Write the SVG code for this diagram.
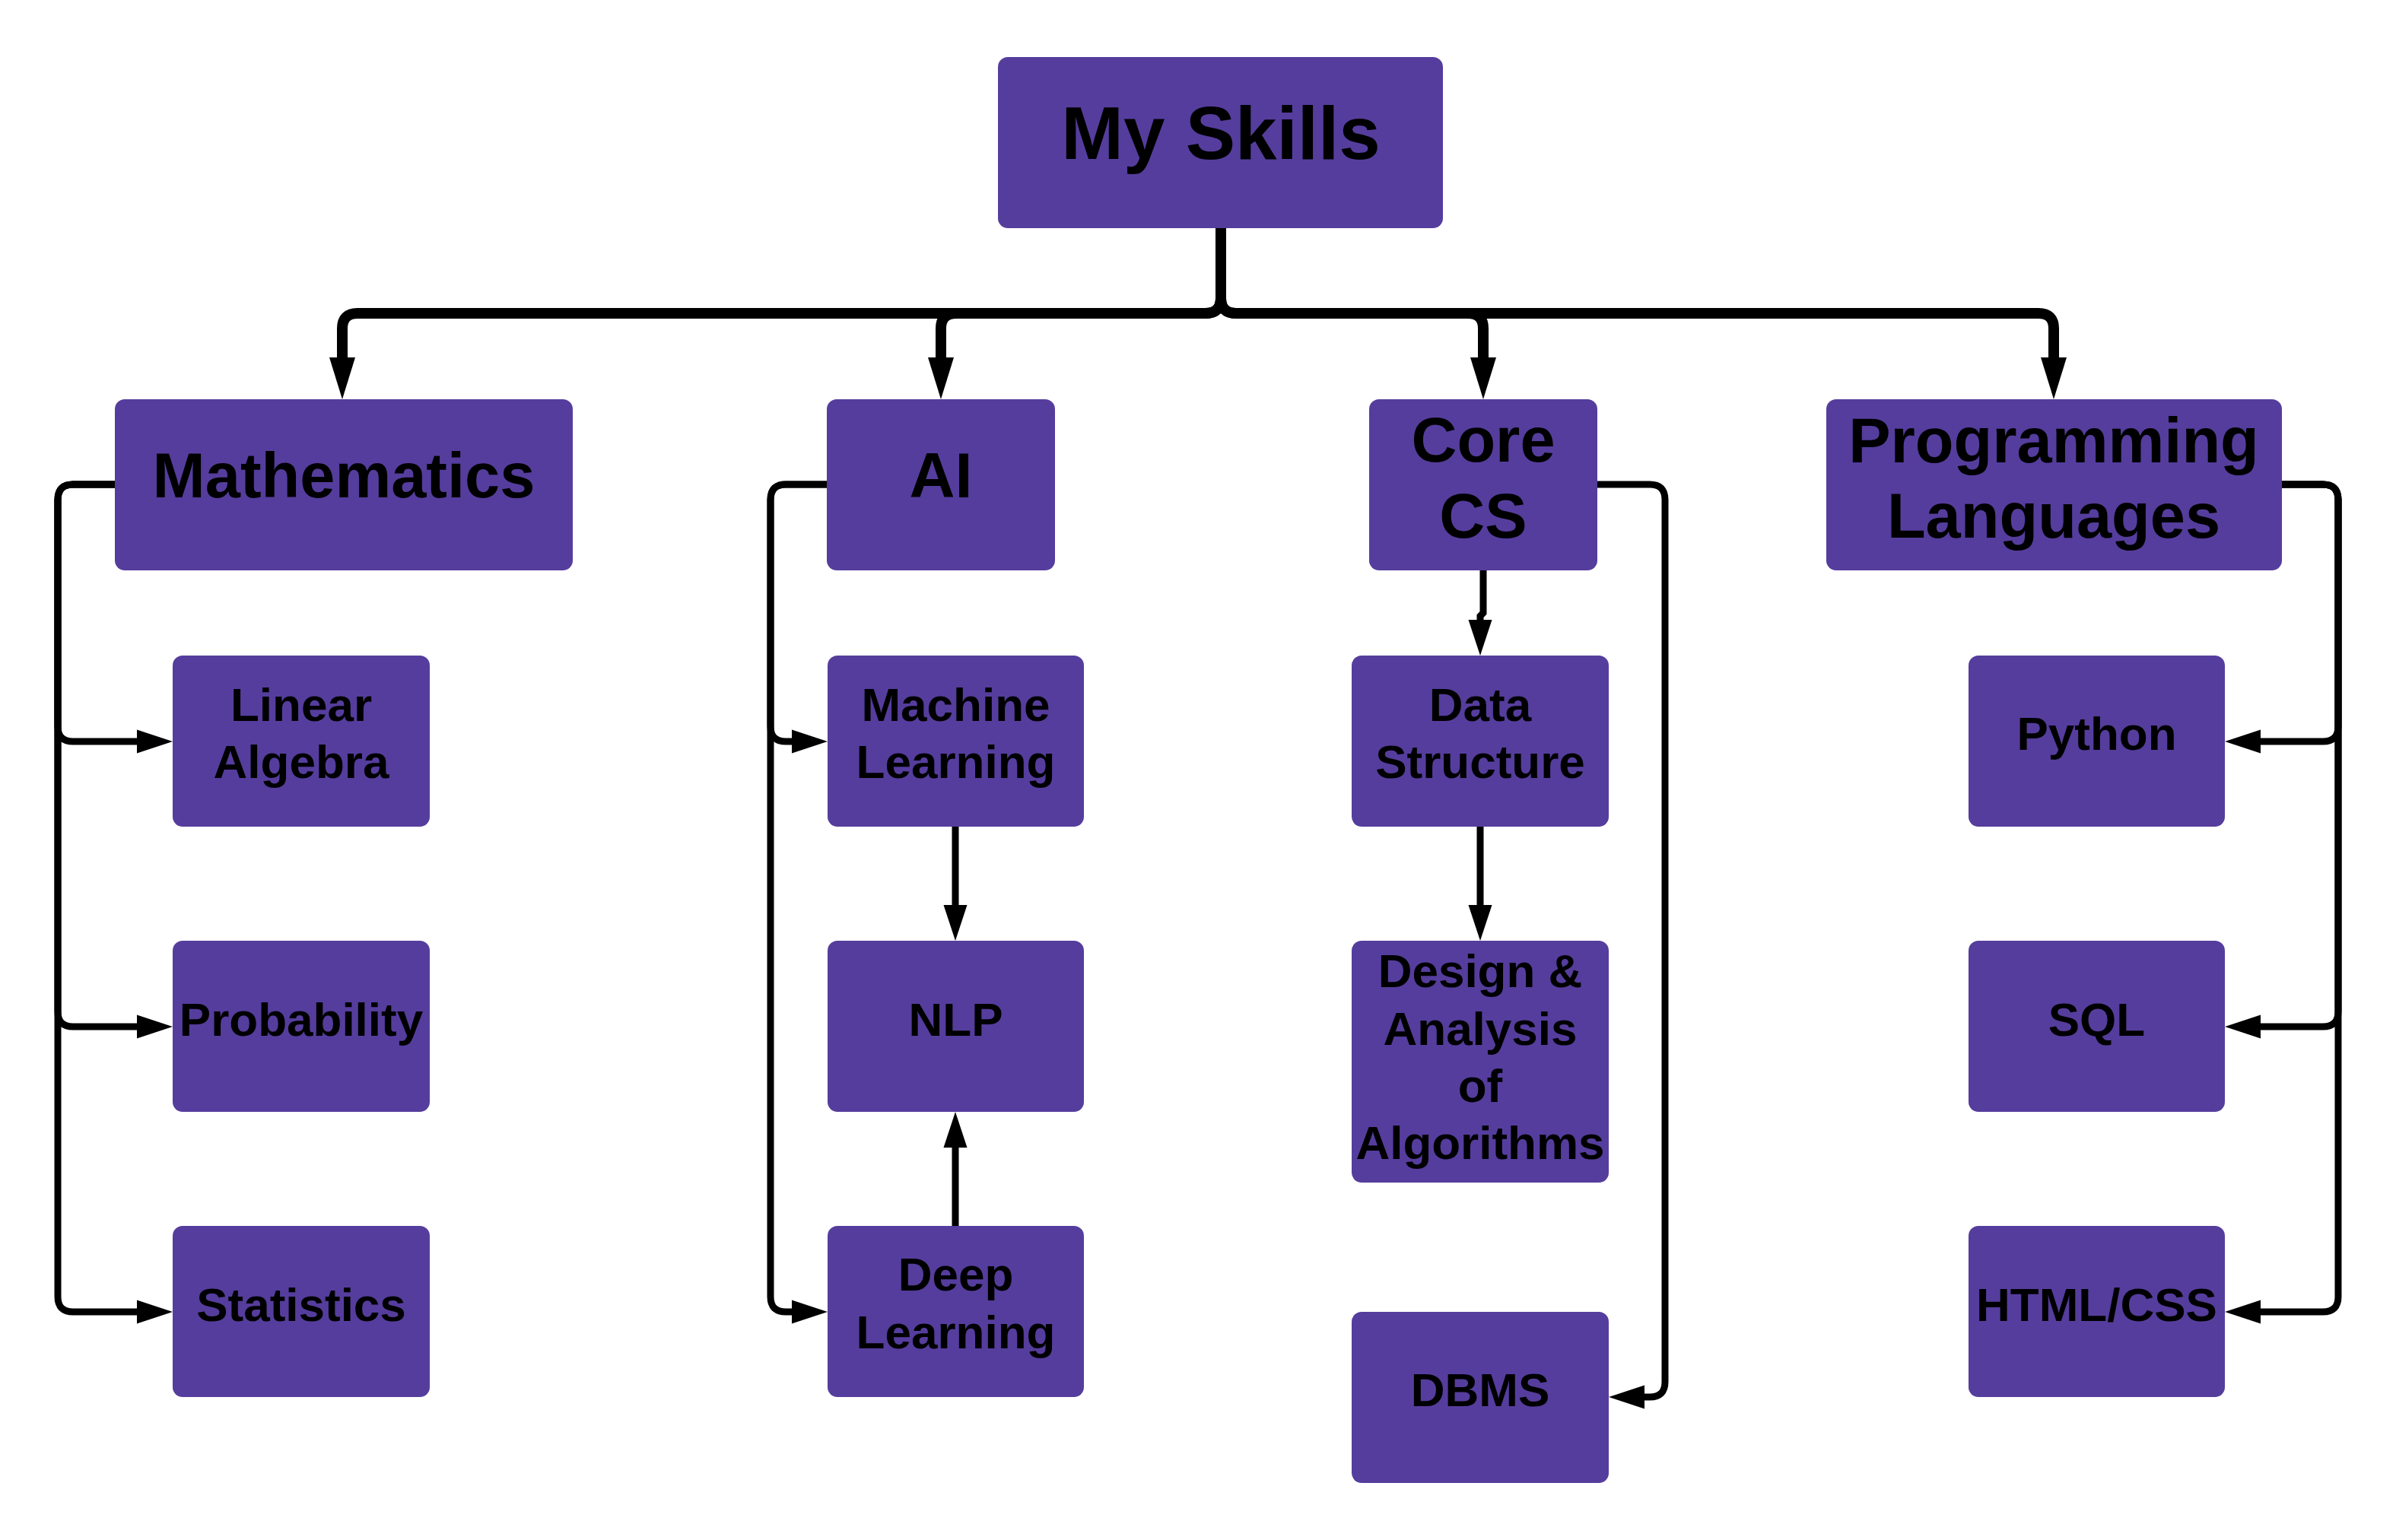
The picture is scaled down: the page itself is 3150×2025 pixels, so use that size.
<svg xmlns="http://www.w3.org/2000/svg" width="3150" height="2025" viewBox="0 0 3150 2025">
<defs>
<style>
.box{fill:#553D9D;}
.t{font-family:"Liberation Sans",Arial,sans-serif;font-weight:bold;fill:#000;text-anchor:middle;}
.t1{font-size:98px;}
.t2{font-size:83px;}
.t3{font-size:62px;}
.big{fill:none;stroke:#000;stroke-width:14;marker-end:url(#ab);}
.sm{fill:none;stroke:#000;stroke-width:9;marker-end:url(#as);}
</style>
<marker id="ab" markerUnits="userSpaceOnUse" viewBox="0 0 55 34" markerWidth="55" markerHeight="34" refX="0" refY="17" orient="auto" overflow="visible"><path d="M0,0 L55,17 L0,34 Z" fill="#000"/></marker>
<marker id="as" markerUnits="userSpaceOnUse" viewBox="0 0 47 31" markerWidth="47" markerHeight="31" refX="0" refY="15.5" orient="auto" overflow="visible"><path d="M0,0 L47,15.5 L0,31 Z" fill="#000"/></marker>
</defs>
<rect width="3150" height="2025" fill="#fff"/>
<g id="connectors">
<path class="big" d="M1605 300 V392 Q1605 412 1585 412 H470 Q450 412 450 432 V470"/>
<path class="big" d="M1605 300 V392 Q1605 412 1585 412 H1257 Q1237 412 1237 432 V470"/>
<path class="big" d="M1605 300 V392 Q1605 412 1625 412 H1930 Q1950 412 1950 432 V470"/>
<path class="big" d="M1605 300 V392 Q1605 412 1625 412 H2680 Q2700 412 2700 432 V470"/>
<path class="sm" d="M151 637 H96 Q76 637 76 657 V955 Q76 975 96 975 H180"/>
<path class="sm" d="M151 637 H96 Q76 637 76 657 V1330 Q76 1350 96 1350 H180"/>
<path class="sm" d="M151 637 H96 Q76 637 76 657 V1705 Q76 1725 96 1725 H180"/>
<path class="sm" d="M1087 637 H1033 Q1013 637 1013 657 V955 Q1013 975 1033 975 H1041"/>
<path class="sm" d="M1087 637 H1033 Q1013 637 1013 657 V1705 Q1013 1725 1033 1725 H1041"/>
<path class="sm" d="M1256 1087 V1190"/>
<path class="sm" d="M1256 1612 V1509"/>
<path class="sm" d="M1950 750 V806 L1946 810 V815"/>
<path class="sm" d="M1946 1087 V1190"/>
<path class="sm" d="M2100 637 H2169 Q2189 637 2189 657 V1817 Q2189 1837 2169 1837 H2162"/>
<path class="sm" d="M3000 637 H3054 Q3074 637 3074 657 V955 Q3074 975 3054 975 H2972"/>
<path class="sm" d="M3000 637 H3054 Q3074 637 3074 657 V1330 Q3074 1350 3054 1350 H2972"/>
<path class="sm" d="M3000 637 H3054 Q3074 637 3074 657 V1705 Q3074 1725 3054 1725 H2972"/>
</g>
<g id="my-skills"><rect class="box" x="1312" y="75" width="585" height="225" rx="13"/><text class="t t1" x="1605" y="209">My Skills</text></g>
<g id="mathematics"><rect class="box" x="151" y="525" width="602" height="225" rx="13"/><text class="t t2" x="452" y="654">Mathematics</text></g>
<g id="ai"><rect class="box" x="1087" y="525" width="300" height="225" rx="13"/><text class="t t2" x="1237" y="654">AI</text></g>
<g id="core-cs"><rect class="box" x="1800" y="525" width="300" height="225" rx="13"/><text class="t t2" x="1950" y="607">Core</text><text class="t t2" x="1950" y="707">CS</text></g>
<g id="programming-languages"><rect class="box" x="2401" y="525" width="599" height="225" rx="13"/><text class="t t2" x="2700" y="608">Programming</text><text class="t t2" x="2700" y="707">Languages</text></g>
<g id="linear-algebra"><rect class="box" x="227" y="862" width="338" height="225" rx="13"/><text class="t t3" x="396" y="948">Linear</text><text class="t t3" x="396" y="1023">Algebra</text></g>
<g id="probability"><rect class="box" x="227" y="1237" width="338" height="225" rx="13"/><text class="t t3" x="396" y="1362">Probability</text></g>
<g id="statistics"><rect class="box" x="227" y="1612" width="338" height="225" rx="13"/><text class="t t3" x="396" y="1737">Statistics</text></g>
<g id="machine-learning"><rect class="box" x="1088" y="862" width="337" height="225" rx="13"/><text class="t t3" x="1256.5" y="948">Machine</text><text class="t t3" x="1256.5" y="1023">Learning</text></g>
<g id="nlp"><rect class="box" x="1088" y="1237" width="337" height="225" rx="13"/><text class="t t3" x="1256.5" y="1362">NLP</text></g>
<g id="deep-learning"><rect class="box" x="1088" y="1612" width="337" height="225" rx="13"/><text class="t t3" x="1256.5" y="1697">Deep</text><text class="t t3" x="1256.5" y="1773">Learning</text></g>
<g id="data-structure"><rect class="box" x="1777" y="862" width="338" height="225" rx="13"/><text class="t t3" x="1946" y="948">Data</text><text class="t t3" x="1946" y="1023">Structure</text></g>
<g id="design-analysis-algorithms"><rect class="box" x="1777" y="1237" width="338" height="318" rx="13"/><text class="t t3" x="1946" y="1298">Design &amp;</text><text class="t t3" x="1946" y="1374">Analysis</text><text class="t t3" x="1946" y="1449">of</text><text class="t t3" x="1946" y="1524">Algorithms</text></g>
<g id="dbms"><rect class="box" x="1777" y="1725" width="338" height="225" rx="13"/><text class="t t3" x="1946" y="1849">DBMS</text></g>
<g id="python"><rect class="box" x="2588" y="862" width="337" height="225" rx="13"/><text class="t t3" x="2756.5" y="986">Python</text></g>
<g id="sql"><rect class="box" x="2588" y="1237" width="337" height="225" rx="13"/><text class="t t3" x="2756.5" y="1362">SQL</text></g>
<g id="html-css"><rect class="box" x="2588" y="1612" width="337" height="225" rx="13"/><text class="t t3" x="2756.5" y="1737">HTML/CSS</text></g>
</svg>
